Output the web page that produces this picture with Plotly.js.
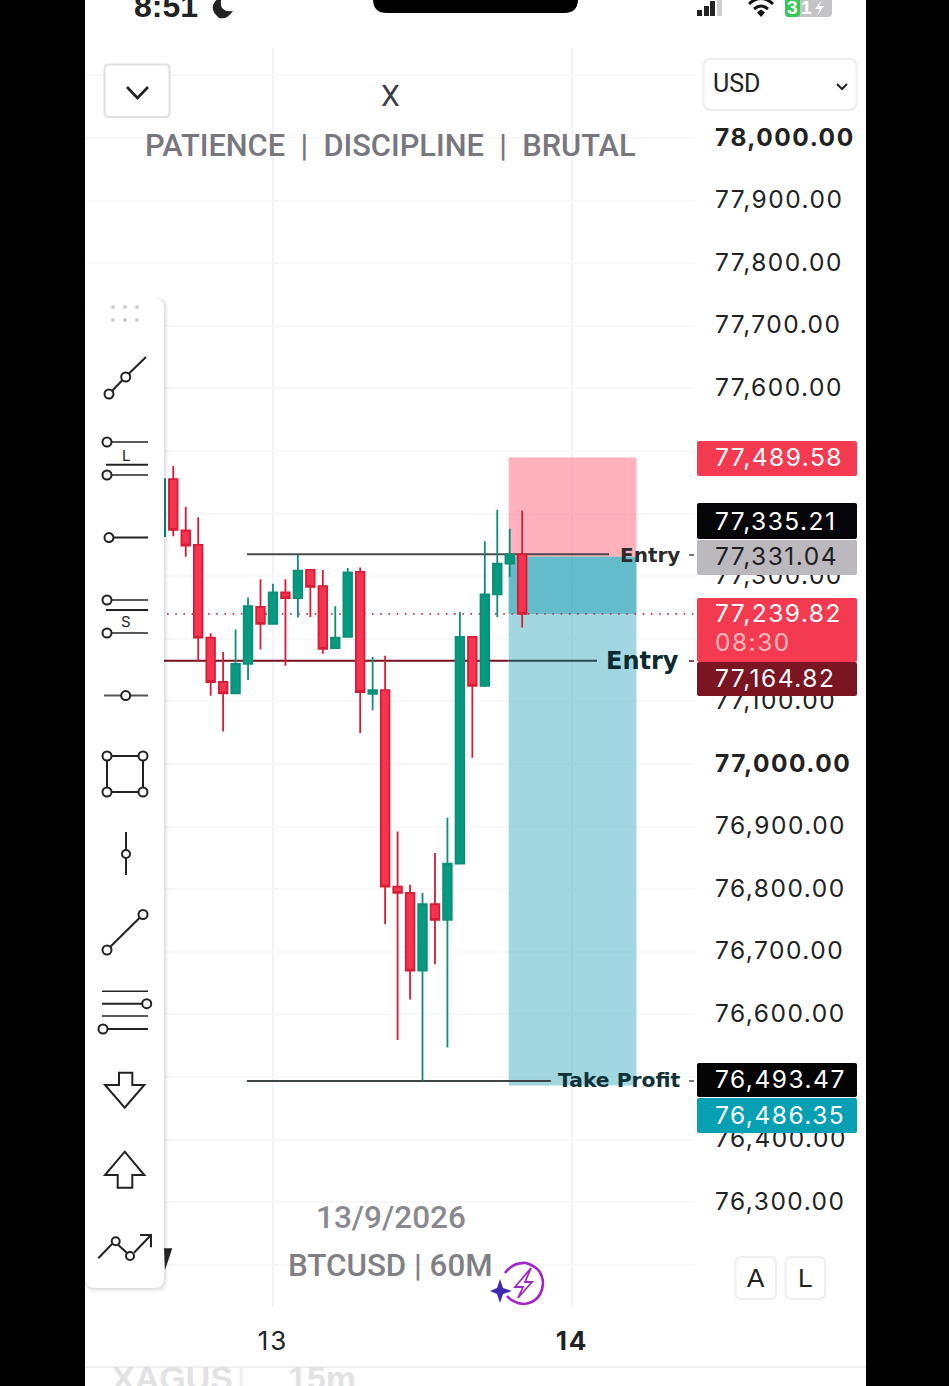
<!DOCTYPE html>
<html>
<head>
<meta charset="utf-8">
<script src="https://cdn.plot.ly/plotly-3.0.1.min.js"></script>
<style>
html,body{margin:0;padding:0;background:#000;overflow:hidden}
#chart{width:949px;height:1386px}
.ytick text{letter-spacing:1.5px}
.xtick text{letter-spacing:2px}
</style>
</head>
<body>
<div id="chart"></div>
<script>
// ---------- chart values ----------
const times = ['2026-09-12 15:00','2026-09-12 16:00','2026-09-12 17:00','2026-09-12 18:00','2026-09-12 19:00','2026-09-12 20:00','2026-09-12 21:00','2026-09-12 22:00','2026-09-12 23:00','2026-09-13 00:00','2026-09-13 01:00','2026-09-13 02:00','2026-09-13 03:00','2026-09-13 04:00','2026-09-13 05:00','2026-09-13 06:00','2026-09-13 07:00','2026-09-13 08:00','2026-09-13 09:00','2026-09-13 10:00','2026-09-13 11:00','2026-09-13 12:00','2026-09-13 13:00','2026-09-13 14:00','2026-09-13 15:00','2026-09-13 16:00','2026-09-13 17:00','2026-09-13 18:00','2026-09-13 19:00','2026-09-13 20:00'];
const opens  = [77364,77455,77373,77350,77202,77131,77113,77160,77251,77224,77274,77265,77310,77284,77185,77203,77307,77112,77118,76804,76794,76670,76776,76751,76841,77203,77125,77271,77320,77335];
const highs  = [77456,77476,77411,77394,77209,77179,77215,77266,77295,77288,77295,77334,77310,77310,77252,77313,77314,77171,77173,76892,76807,76794,76858,76914,77243,77203,77356,77406,77376,77405];
const lows   = [77364,77364,77331,77163,77109,77052,77113,77134,77183,77224,77157,77234,77235,77176,77185,77203,77049,77086,76744,76559,76624,76494,76680,76547,76841,77010,77123,77235,77299,77218];
const closes = [77455,77374,77349,77202,77131,77113,77160,77252,77224,77274,77265,77309,77283,77184,77202,77306,77115,77118,76804,76794,76670,76776,76751,76841,77203,77125,77271,77320,77335,77239.82];

const priceTicks  = [76200,76300,76400,76500,76600,76700,76800,76900,77000,77100,77200,77300,77400,77500,77600,77700,77800,77900,78000,78100];
const priceLabels = ['','76,300.00','76,400.00','76,500.00','76,600.00','76,700.00','76,800.00','76,900.00','<b>77,000.00</b>','77,100.00','77,200.00','77,300.00','77,400.00','77,500.00','77,600.00','77,700.00','77,800.00','77,900.00','<b>78,000.00</b>',''];
const dayTicks  = ['2026-09-13','2026-09-14'];
const dayLabels = ['13','<b>14</b>'];

const stopPrice = 77489.58, orderEntry = 77331.04, lastPrice = 77239.82, takeProfit = 76486.35;
const upperEntryLine = 77335.21, lowerEntryLine = 77164.82, takeProfitLine = 76493.47;

const posStart = '2026-09-13 18:55', posEnd = '2026-09-14 05:10';
const xStart = '2026-09-12 08:55', xEnd = '2026-09-14 09:52';
const lineStart = '2026-09-12 21:55', upperLineEnd = '2026-09-14 02:58', tpLineEnd = '2026-09-13 22:18';
const lowerLineStart = '2026-09-12 15:00', lowerLineEnd = '2026-09-14 02:00', dotStart = '2026-09-12 15:30';

const W = 949, H = 1386;
const FONT = 'Inter, "Liberation Sans", sans-serif';
const BOLD = '"DejaVu Sans", sans-serif';
const SOFT = 'Roboto, "Liberation Sans", sans-serif';
const px = v => v / W, py = v => 1 - v / H;

// ---------- chrome helpers ----------
const shapes = [];
const notes = [];
function rect(x0, y0, x1, y1, fill, stroke, lw, layer, r) {
  const s = {xref:'paper', yref:'paper', layer: layer || 'above', line:{color: stroke || 'rgba(0,0,0,0)', width: lw || 0}, fillcolor: fill || 'rgba(0,0,0,0)'};
  if (r) {
    const X0=px(x0),X1=px(x1),Y0=py(y0),Y1=py(y1),RX=r/W,RY=r/H;
    s.type='path';
    s.path=`M${X0+RX},${Y0} L${X1-RX},${Y0} Q${X1},${Y0} ${X1},${Y0-RY} L${X1},${Y1+RY} Q${X1},${Y1} ${X1-RX},${Y1} L${X0+RX},${Y1} Q${X0},${Y1} ${X0},${Y1+RY} L${X0},${Y0-RY} Q${X0},${Y0} ${X0+RX},${Y0} Z`;
  } else {
    Object.assign(s,{type:'rect',x0:px(x0),x1:px(x1),y0:py(y0),y1:py(y1)});
  }
  shapes.push(s);
}
function seg(x0,y0,x1,y1,color,lw){
  shapes.push({type:'line',xref:'paper',yref:'paper',layer:'above',x0:px(x0),x1:px(x1),y0:py(y0),y1:py(y1),line:{color:color||'#222',width:lw||2}});
}
function dot(x,y,r,stroke,fill,lw){
  shapes.push({type:'circle',xref:'paper',yref:'paper',layer:'above',x0:px(x-r),x1:px(x+r),y0:py(y-r),y1:py(y+r),fillcolor:fill||'#fff',line:{color:stroke||'#222',width:lw===undefined?2:lw}});
}
function poly(pts,stroke,fill,lw,open){
  let d='M'+pts.map(p=>px(p[0])+','+py(p[1])).join(' L');
  if(!open) d+=' Z';
  shapes.push({type:'path',xref:'paper',yref:'paper',layer:'above',path:d,fillcolor:fill||'rgba(0,0,0,0)',line:{color:stroke||'rgba(0,0,0,0)',width:lw===undefined?2:lw}});
}
function curve(d,stroke,lw){
  shapes.push({type:'path',xref:'paper',yref:'paper',layer:'above',path:d,fillcolor:'rgba(0,0,0,0)',line:{color:stroke,width:lw}});
}
function note(text,x,y,size,color,anchor,family,weight){
  const a = anchor||'left';
  notes.push({text,xref:'paper',yref:'paper',x:px(x),y:py(y),xanchor:a,align:a,yanchor:'middle',showarrow:false,borderpad:0,
    font:{size,color,family:family||FONT,weight:weight||400}});
}

// ---------- screen background ----------
rect(85,0,866,1386,'#ffffff',null,0,'below');
rect(85,1366,866,1368,'#f1f1f1',null,0,'below');

// ---------- chart overlays (in price / time coordinates) ----------
const dataShapes = [
  {type:'line',xref:'x',yref:'y',layer:'between',x0:lowerLineStart,x1:posStart,y0:lowerEntryLine,y1:lowerEntryLine,line:{color:'#7a1020',width:2}},
  {type:'rect',xref:'x',yref:'y',layer:'between',x0:posStart,x1:posEnd,y0:orderEntry,y1:stopPrice,fillcolor:'rgba(255,100,125,0.5)',line:{width:0}},
  {type:'rect',xref:'x',yref:'y',layer:'between',x0:posStart,x1:posEnd,y0:takeProfit,y1:orderEntry,fillcolor:'rgba(70,175,195,0.5)',line:{width:0}},
  {type:'rect',xref:'x',yref:'y',layer:'between',x0:posStart,x1:posEnd,y0:lastPrice,y1:orderEntry,fillcolor:'rgba(37,161,181,0.5)',line:{width:0}},
  {type:'line',xref:'x',yref:'y',layer:'between',x0:lineStart,x1:upperLineEnd,y0:upperEntryLine,y1:upperEntryLine,line:{color:'#4a4a4a',width:2}},
  {type:'line',xref:'x',yref:'y',layer:'between',x0:lineStart,x1:tpLineEnd,y0:takeProfitLine,y1:takeProfitLine,line:{color:'#3c4446',width:2}},
  {type:'line',xref:'x',yref:'y',layer:'between',x0:posStart,x1:lowerLineEnd,y0:lowerEntryLine,y1:lowerEntryLine,line:{color:'#2e4654',width:2}},
  {type:'line',xref:'x',yref:'y',layer:'between',x0:dotStart,x1:xEnd,y0:lastPrice,y1:lastPrice,line:{color:'#c2334a',width:1.6,dash:'1.6px,6.6px'}}
];
shapes.push(...dataShapes);

// ---------- sidebar ----------
[[5,'rgba(0,0,0,0.012)'],[4,'rgba(0,0,0,0.018)'],[3,'rgba(0,0,0,0.025)'],[2,'rgba(0,0,0,0.03)'],[1,'rgba(0,0,0,0.04)']].forEach(a=>{
  rect(85,298,164+a[0],1288+a[0],a[1],null,0,'above',10);
});
rect(85,298,164,1288,'#ffffff',null,0,'above',10);
poly([[164,1248.3],[172.3,1248.3],[165,1270]],null,'#222',0);
[113,125,137].forEach(x=>[307,320].forEach(y=>dot(x,y,2,null,'#cfcfcf',0)));

const ink='#222';
// trend line
seg(112,391,122.5,380,ink,2); seg(128.5,374,146,357,ink,2); dot(109,394,4.5); dot(125.7,377,4.5);
// long
seg(111,442,148,442,ink,1.6); seg(106,464.7,148,464.7,ink,2); seg(111,475,148,475,ink,1.6); dot(107,442,4.5); dot(107,475,4.5);
note('L',126,455,15,ink,'center');
// ray
seg(113,537.6,148,537.6,ink,2); dot(109,537.6,4.5);
// short
seg(111,600,148,600,ink,1.6); seg(106,610,148,610,ink,2); seg(111,633,148,633,ink,1.6); dot(107,600,4.5); dot(107,633,4.5);
note('S',126,622,15,ink,'center');
// horizontal line
seg(104,695.6,148,695.6,'#555',2); dot(125.7,695.6,4.5);
// rectangle
seg(107,756,143,756,ink,2); seg(107,792,143,792,ink,2); seg(107,756,107,792,ink,2); seg(143,756,143,792,ink,2);
dot(107,756,4.5); dot(143,756,4.5); dot(107,792,4.5); dot(143,792,4.5);
// vertical line
seg(126,832,126,875,ink,2); dot(126,854,4);
// trend 2
seg(107,950,143,914.5,ink,2); dot(107,950,4.5); dot(143,914.5,4.5);
// fib
seg(102,991.3,148,991.3,ink,1.6); seg(102,1003.7,145,1003.7,ink,2); seg(102,1016,148,1016,ink,1.6); seg(105,1029,148,1029,ink,2);
dot(146.7,1003.7,4.5); dot(103,1029,4.5);
// down arrow
poly([[119,1072.7],[132.3,1072.7],[132.3,1085],[144.3,1085],[124.7,1107.7],[105,1085],[119,1085]],ink,'#fff',2);
// up arrow
poly([[124.7,1151.7],[144.3,1175],[132.3,1175],[132.3,1187.7],[117.7,1187.7],[117.7,1175],[105,1175]],ink,'#fff',2);
// path arrow
seg(98.3,1258.3,112,1244,ink,2); seg(118.3,1245,126.7,1252.7,ink,2); seg(134,1252.7,151,1235,ink,2);
poly([[140,1235],[151,1235],[151,1247.3]],ink,null,2,true);
dot(115.7,1241.3,4); dot(130,1256,4);

// ---------- top controls ----------
rect(104.5,64.5,169.5,117,'#fff','#e0e0e0',2,'above',4);
poly([[127,87],[137.5,98],[148,87]],'#222',null,2.6,true);
rect(703.5,59,856.5,110,'#fff','#eeeeee',2,'above',8);
poly([[837,84],[842,89],[847,84]],'#222',null,2,true);
note('USD',712,84,25,'#222','left',SOFT);
note('X',390,96,30,'#3d3d48','center',SOFT);
note('PATIENCE\u00a0\u00a0|\u00a0\u00a0DISCIPLINE\u00a0\u00a0|\u00a0\u00a0BRUTAL',390,145,30.8,'#77777d','center',SOFT,500);

// ---------- status bar ----------
note('<b>8:51</b>',133,6,32,'#222','left','"Liberation Sans", sans-serif');
shapes.push({type:'path',xref:'paper',yref:'paper',layer:'above',fillcolor:'#222',line:{width:0},
  path:`M${px(222)},${py(-4)} Q${px(205)},${py(6)} ${px(219)},${py(18)} Q${px(227)},${py(20)} ${px(233)},${py(11)} Q${px(217)},${py(13)} ${px(222)},${py(-4)} Z`});
rect(373,-20,578,13,'#000',null,0,'above',14);
rect(697,10,702,16,'#222',null,0); rect(704,6,709,16,'#222',null,0); rect(710,1,715,16,'#222',null,0); rect(717,0,722,16,'#cfcfcf',null,0);
curve(`M${px(749)},${py(4)} Q${px(761)},${py(-7)} ${px(773)},${py(4)}`,'#111',3);
curve(`M${px(754)},${py(9)} Q${px(761)},${py(3)} ${px(768)},${py(9)}`,'#111',3);
poly([[757,12.5],[761,9.5],[765,12.5],[761,17]],null,'#111',0);
rect(785,-3,832,17,'#c4c4c8',null,0,'above',4);
rect(785,-3,800,17,'#37c85a',null,0,'above',4);
note('<b>3</b>',792,7,19,'#fff','center','"Liberation Sans", sans-serif');
note('<b>1</b>',806,7,19,'#fff','center','"Liberation Sans", sans-serif');
poly([[822,0],[815,9],[820,9],[817,16],[824,6],[819,6]],null,'#fff',0);

// ---------- price tags ----------
rect(697,441,857,476,'#f43a50',null,0,'above',2);
rect(697,503,857,539,'#060608',null,0,'above',2);
rect(697,540,857,575,'#bbb9be',null,0,'above',2);
rect(697,598,857,662,'#f43a50',null,0,'above',2);
rect(697,662,857,696,'#7c1522',null,0,'above',2);
rect(697,1063,857,1097,'#050505',null,0,'above',2);
rect(697,1098,857,1133,'#079fb3',null,0,'above',2);
[['77,489.58',457,'#fff'],['77,335.21',520.5,'#fff'],['77,331.04',555.5,'#1e1e22'],['77,239.82',613,'#fff'],['08:30',641.5,'rgba(255,255,255,0.65)'],['77,164.82',677.5,'#fff'],['76,493.47',1079,'#fff'],['76,486.35',1114.5,'#fff']]
 .forEach(t=>note(t[0],714,t[1],24.5,t[2],'left',FONT));

// ---------- drawing labels ----------
note('<b>Entry</b>',681,555,20,'#2b2b2b','right',BOLD);
note('<b>Entry</b>',680,661,24,'#0c2a30','right',BOLD);
note('<b>Take Profit</b>',681,1080,20.3,'#123036','right',BOLD);
seg(689,555,694,555,'#555',1.6); seg(689,661,694,661,'#7a1020',1.6); seg(689,1081,694,1081,'#555',1.6);

// ---------- watermark ----------
note('13/9/2026',391,1217,31.5,'#8a8a8e','center',SOFT,500);
note('BTCUSD | 60M',390,1265,31.3,'#808084','center',SOFT,500);
// bolt badge
curve(`M${px(505)},${py(1273)} Q${px(513)},${py(1262)} ${px(526)},${py(1263)} Q${px(543)},${py(1268)} ${px(543)},${py(1284)} Q${px(541)},${py(1302)} ${px(524)},${py(1304)} Q${px(513)},${py(1303)} ${px(507)},${py(1296)}`,'#a028c8',2.6);
poly([[531,1268],[515,1287],[523,1287],[518,1298],[532,1282],[525,1282]],'#a028c8',null,1.8);
poly([[500,1279],[503,1288],[512,1291],[503,1294],[500,1303],[497,1294],[490,1291],[497,1288]],null,'#3f2bb0',0);

// ---------- A / L ----------
rect(735.5,1257,776,1299,'#fff','#eeeeee',2,'above',6);
rect(785.5,1257,825,1299,'#fff','#eeeeee',2,'above',6);
note('A',755.5,1278,26,'#222','center','"Liberation Sans", sans-serif');
note('L',805,1278,26,'#222','center','"Liberation Sans", sans-serif');

// ---------- bottom ghost row ----------
note('<b>XAGUS</b>',111,1378,34,'#e2e2e4','left','"Liberation Sans", sans-serif');
note('<b>15m</b>',287,1378,34,'#e2e2e4','left','"Liberation Sans", sans-serif');
seg(241,1368,241,1386,'#efeff0',3);

const trace = {
  type:'candlestick', x:times, open:opens, high:highs, low:lows, close:closes,
  increasing:{line:{color:'#0b8f7a',width:1.8},fillcolor:'#089981'},
  decreasing:{line:{color:'#d81c36',width:1.8},fillcolor:'#f5354f'},
  whiskerwidth:0, hoverinfo:'skip', showlegend:false
};

const layout = {
  width:W, height:H,
  margin:{l:0,r:0,t:0,b:0,pad:0},
  paper_bgcolor:'#000000', plot_bgcolor:'rgba(0,0,0,0)',
  showlegend:false, hovermode:false, boxgap:0.31, boxgroupgap:0,
  font:{family:FONT,color:'#222'},
  xaxis:{
    type:'date', domain:[px(85),px(695)], range:[xStart,xEnd],
    rangeslider:{visible:false}, tickmode:'array', tickvals:dayTicks, ticktext:dayLabels,
    showgrid:true, gridcolor:'#f3f3f3', gridwidth:2, ticks:'', showline:false, zeroline:false,
    tickfont:{size:26,color:'#222',family:FONT}, ticklabelstandoff:16, fixedrange:true
  },
  yaxis:{
    side:'right', domain:[py(1307),py(48)], range:[76132.6,78143.77],
    tickmode:'array', tickvals:priceTicks, ticktext:priceLabels,
    showgrid:true, gridcolor:'#f8f8f8', gridwidth:2, ticks:'', showline:false, zeroline:false,
    tickfont:{size:24.5,color:'#222',family:FONT}, ticklabelstandoff:19, fixedrange:true
  },
  shapes, annotations:notes
};
Plotly.newPlot('chart',[trace],layout,{staticPlot:true,displayModeBar:false,responsive:false}).then(()=>{
  document.querySelectorAll('.ytick text').forEach(t=>{ t.setAttribute('y', (+t.getAttribute('y'))-1); });
  document.querySelectorAll('.annotation-text').forEach(t=>{
    if(/^\d\d,\d{3}\.\d\d$|^08:30$/.test(t.textContent)) t.style.letterSpacing='1.5px';
  });
});
</script>
</body>
</html>
